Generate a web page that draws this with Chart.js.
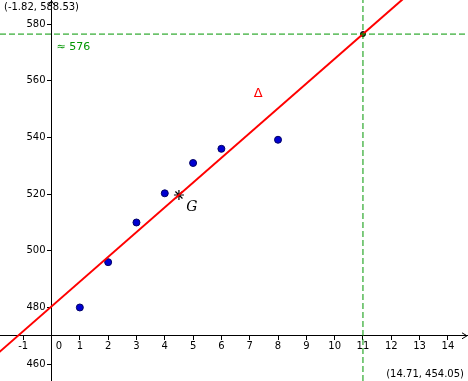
<!DOCTYPE html>
<html lang="en">
<head>
    <meta charset="UTF-8">
    <title>Regression line</title>
    <script src="https://cdn.jsdelivr.net/npm/chart.js"></script>
    <style>
        html, body { margin: 0; padding: 0; background: #fff; }
        #wrap { width: 468px; height: 381px; }
    </style>
</head>
<body>
    <div id="wrap"><canvas id="chart"></canvas></div>

    <script>
        // view window (corner coordinates shown in the picture)
        const xMin = -1.82, xMax = 14.71;
        const yMin = 454.05, yMax = 588.53;

        // data points
        const ptX = [1, 2, 3, 4, 5, 6, 8];
        const ptY = [480, 496, 510, 520.3, 531, 536, 539.2];

        // mean point G
        const gX = [4.5];
        const gY = [519.7];

        // regression line ends
        const lineX = [-2, 13];
        const lineY = [462.9, 594.0];

        // estimate at x = 11
        const estX = [11];
        const estY = [576.5];
        const estLabel = '\u2248 576';

        const toXY = (xs, ys) => xs.map((x, i) => ({ x: x, y: ys[i] }));

        const font = { family: 'DejaVu Sans', size: 10 };
        const green = 'rgb(0,150,0)';

        // keep the axes from pushing the plot area inwards
        const noPad = s => { s.paddingLeft = s.paddingRight = s.paddingTop = s.paddingBottom = 0; };

        // extra labels, arrows and corner coordinates
        const extras = {
            id: 'extras',
            afterDraw(chart) {
                const ctx = chart.ctx;
                const sx = chart.scales.x, sy = chart.scales.y;
                const ox = sx.getPixelForValue(0), oy = sy.getPixelForValue(470);
                ctx.save();
                // axis arrows
                ctx.strokeStyle = '#000';
                ctx.lineWidth = 1;
                ctx.beginPath();
                ctx.moveTo(ox - 3, 5); ctx.lineTo(ox, 1); ctx.lineTo(ox + 3, 5);
                ctx.moveTo(chart.width - 6, oy - 3); ctx.lineTo(chart.width - 1, oy); ctx.lineTo(chart.width - 6, oy + 3);
                ctx.stroke();

                ctx.font = '10px "DejaVu Sans"';
                ctx.fillStyle = '#000';
                ctx.textBaseline = 'top';
                ctx.textAlign = 'left';
                ctx.fillText('(' + xMin + ', ' + yMax + ')', 4, 2);
                ctx.textAlign = 'right';
                ctx.textBaseline = 'bottom';
                ctx.fillText('(' + xMax + ', ' + yMin + ')', chart.width - 4, chart.height - 2);

                // estimate label
                ctx.fillStyle = green;
                ctx.textAlign = 'left';
                ctx.textBaseline = 'middle';
                ctx.font = '11px "DejaVu Sans"';
                ctx.fillText(estLabel, ox + 5, sy.getPixelForValue(estY[0]) + 13);

                // line name
                ctx.fillStyle = 'rgb(255,0,0)';
                ctx.font = '13px "DejaVu Sans"';
                ctx.textAlign = 'center';
                ctx.fillText('\u0394', sx.getPixelForValue(7.3), sy.getPixelForValue(555.5));

                // G label
                ctx.fillStyle = '#000';
                ctx.font = 'italic 14px "DejaVu Serif"';
                ctx.fillText('G', sx.getPixelForValue(gX[0]) + 13, sy.getPixelForValue(gY[0]) + 12);
                ctx.restore();
            }
        };

        new Chart(document.getElementById('chart'), {
            type: 'scatter',
            data: {
                datasets: [
                    {
                        label: 'x = 11',
                        type: 'line',
                        data: [{ x: estX[0], y: yMin }, { x: estX[0], y: yMax }],
                        borderColor: green,
                        borderWidth: 1,
                        borderDash: [6, 3],
                        pointRadius: 0
                    },
                    {
                        label: 'y est',
                        type: 'line',
                        data: [{ x: xMin, y: estY[0] }, { x: xMax, y: estY[0] }],
                        borderColor: green,
                        borderWidth: 1,
                        borderDash: [6, 3],
                        pointRadius: 0
                    },
                    {
                        label: 'Δ',
                        type: 'line',
                        data: toXY(lineX, lineY),
                        borderColor: 'rgb(255,0,0)',
                        borderWidth: 2,
                        pointRadius: 0
                    },
                    {
                        label: 'points',
                        data: toXY(ptX, ptY),
                        backgroundColor: 'rgb(0,0,210)',
                        borderColor: 'rgb(0,0,100)',
                        borderWidth: 1,
                        pointRadius: 3.5
                    },
                    {
                        label: 'G',
                        data: toXY(gX, gY),
                        pointStyle: 'star',
                        borderColor: '#000',
                        borderWidth: 1.2,
                        pointRadius: 5
                    },
                    {
                        label: 'estimate',
                        data: toXY(estX, estY),
                        backgroundColor: 'rgb(60,60,60)',
                        borderColor: '#000',
                        borderWidth: 1,
                        pointRadius: 2.5
                    }
                ]
            },
            options: {
                responsive: true,
                maintainAspectRatio: false,
                animation: false,
                layout: { padding: 0, autoPadding: false },
                plugins: { legend: { display: false }, tooltip: { enabled: false } },
                scales: {
                    x: {
                        type: 'linear',
                        position: { y: 470 },
                        min: xMin,
                        max: xMax,
                        afterFit: noPad,
                        grid: { display: true, drawOnChartArea: false, tickLength: 4, color: '#000' },
                        border: { color: '#000', width: 1 },
                        ticks: {
                            stepSize: 1,
                            includeBounds: false,
                            maxRotation: 0,
                            autoSkip: false,
                            padding: 1,
                            color: '#000',
                            font: font,
                            callback: v => v === 0 ? '\u2003\u20020' : String(v)
                        }
                    },
                    y: {
                        type: 'linear',
                        position: { x: 0 },
                        min: yMin,
                        max: yMax,
                        afterFit: noPad,
                        grid: { display: true, drawOnChartArea: false, tickLength: 4, color: '#000' },
                        border: { color: '#000', width: 1 },
                        ticks: {
                            stepSize: 20,
                            includeBounds: false,
                            autoSkip: false,
                            padding: 2,
                            color: '#000',
                            font: font,
                            callback: v => v + '\u2002\u200a'
                        }
                    }
                }
            },
            plugins: [extras]
        });
    </script>
</body>
</html>
